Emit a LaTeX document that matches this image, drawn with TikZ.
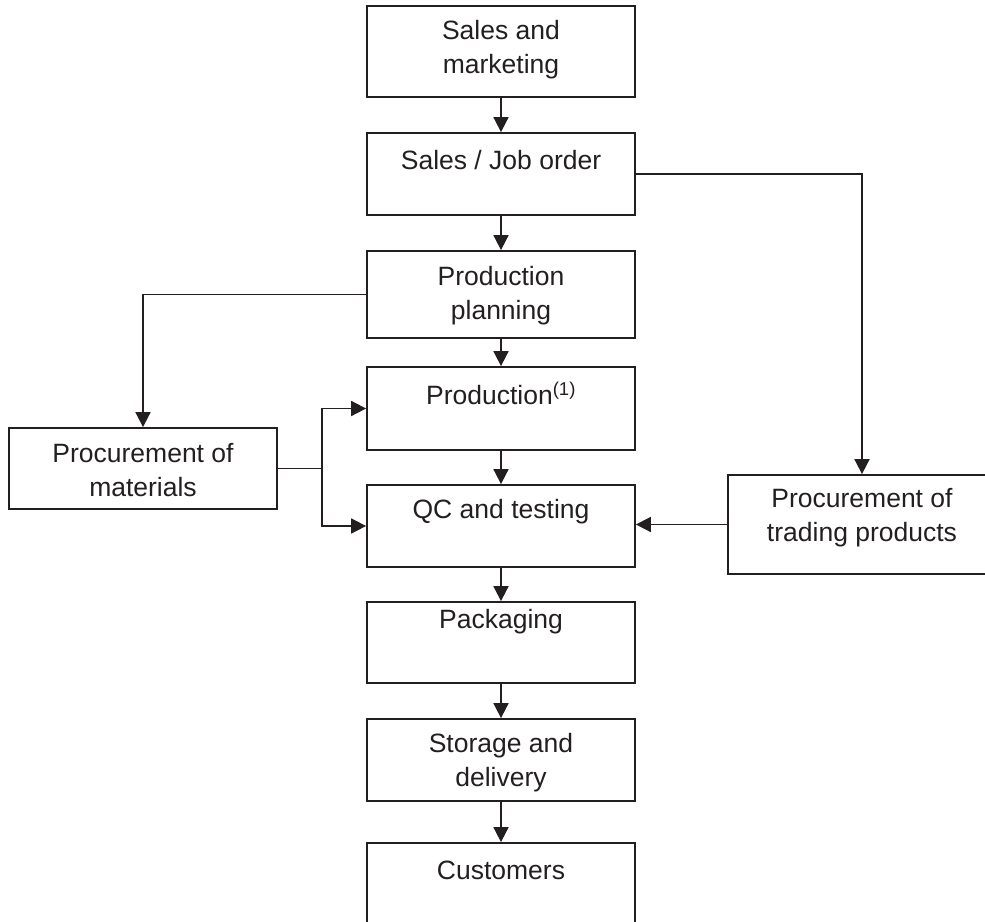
\documentclass[tikz,border=0pt]{standalone}
\usepackage{fontspec}
\setmainfont{Liberation Sans}
\usetikzlibrary{arrows.meta}
\definecolor{ink}{HTML}{231F20}
\begin{document}
\begin{tikzpicture}[x=1pt,y=-1pt,
  box/.style={draw=ink, line width=1.8pt, inner sep=0pt, minimum width=268pt},
  lbl/.style={text=ink, align=center, inner sep=0pt, font=\fontsize{26.5}{34}\selectfont},
  conn/.style={draw=ink, line width=1.8pt},
  arr/.style={conn, -{Triangle[length=15pt,width=15pt]}}]
\useasboundingbox (0,0) rectangle (985,921);
% boxes
\node[box, minimum height=91pt] (sm) at (501,51.5) {};
\node[box, minimum height=82pt] (sj) at (501,174) {};
\node[box, minimum height=87pt] (pp) at (501,294.5) {};
\node[box, minimum height=83pt] (pr) at (501,408.5) {};
\node[box, minimum height=82pt] (qc) at (501,526) {};
\node[box, minimum height=81pt] (pk) at (501,642.5) {};
\node[box, minimum height=82pt] (sd) at (501,760) {};
\node[box, minimum height=90pt] (cu) at (501,888) {};
\node[box, minimum height=81pt] (pm) at (143,468.5) {};
\node[box, minimum height=99pt] (tp) at (862,524.5) {};
% texts
\node[lbl] (tsm) at (501,50) {Sales and\\marketing};
\node[lbl] (tsj) at (501,160) {Sales / Job order};
\node[lbl] (tpp) at (501,296) {Production\\planning};
\node[lbl] (tpr) at (501,393) {Production\textsuperscript{(1)}};
\node[lbl] (tqc) at (501,512) {QC and testing};
\node[lbl] (tpk) at (501,622) {Packaging};
\node[lbl] (tsd) at (501,763) {Storage and\\delivery};
\node[lbl] (tcu) at (501,870) {Customers};
\node[lbl] (tpm) at (143,470) {Procurement of\\materials};
\node[lbl] (ttp) at (862,518) {Procurement of\\trading products};
% connectors
\draw[arr] (sm.south) -- (sj.north);
\draw[arr] (sj.south) -- (pp.north);
\draw[arr] (pp.south) -- (pr.north);
\draw[arr] (pr.south) -- (qc.north);
\draw[arr] (qc.south) -- (pk.north);
\draw[arr] (pk.south) -- (sd.north);
\draw[arr] (sd.south) -- (cu.north);
\draw[arr] (sj.east) -| (tp.north);
\draw[arr] (pp.west) -| (pm.north);
\coordinate (j) at (322,468.5);
\draw[conn] (pm.east) -- (j);
\draw[arr] (j) |- (pr.west);
\draw[arr] (j) |- (qc.west);
\draw[arr] (tp.west) -- (tp.west -| qc.east);
\end{tikzpicture}
\end{document}
